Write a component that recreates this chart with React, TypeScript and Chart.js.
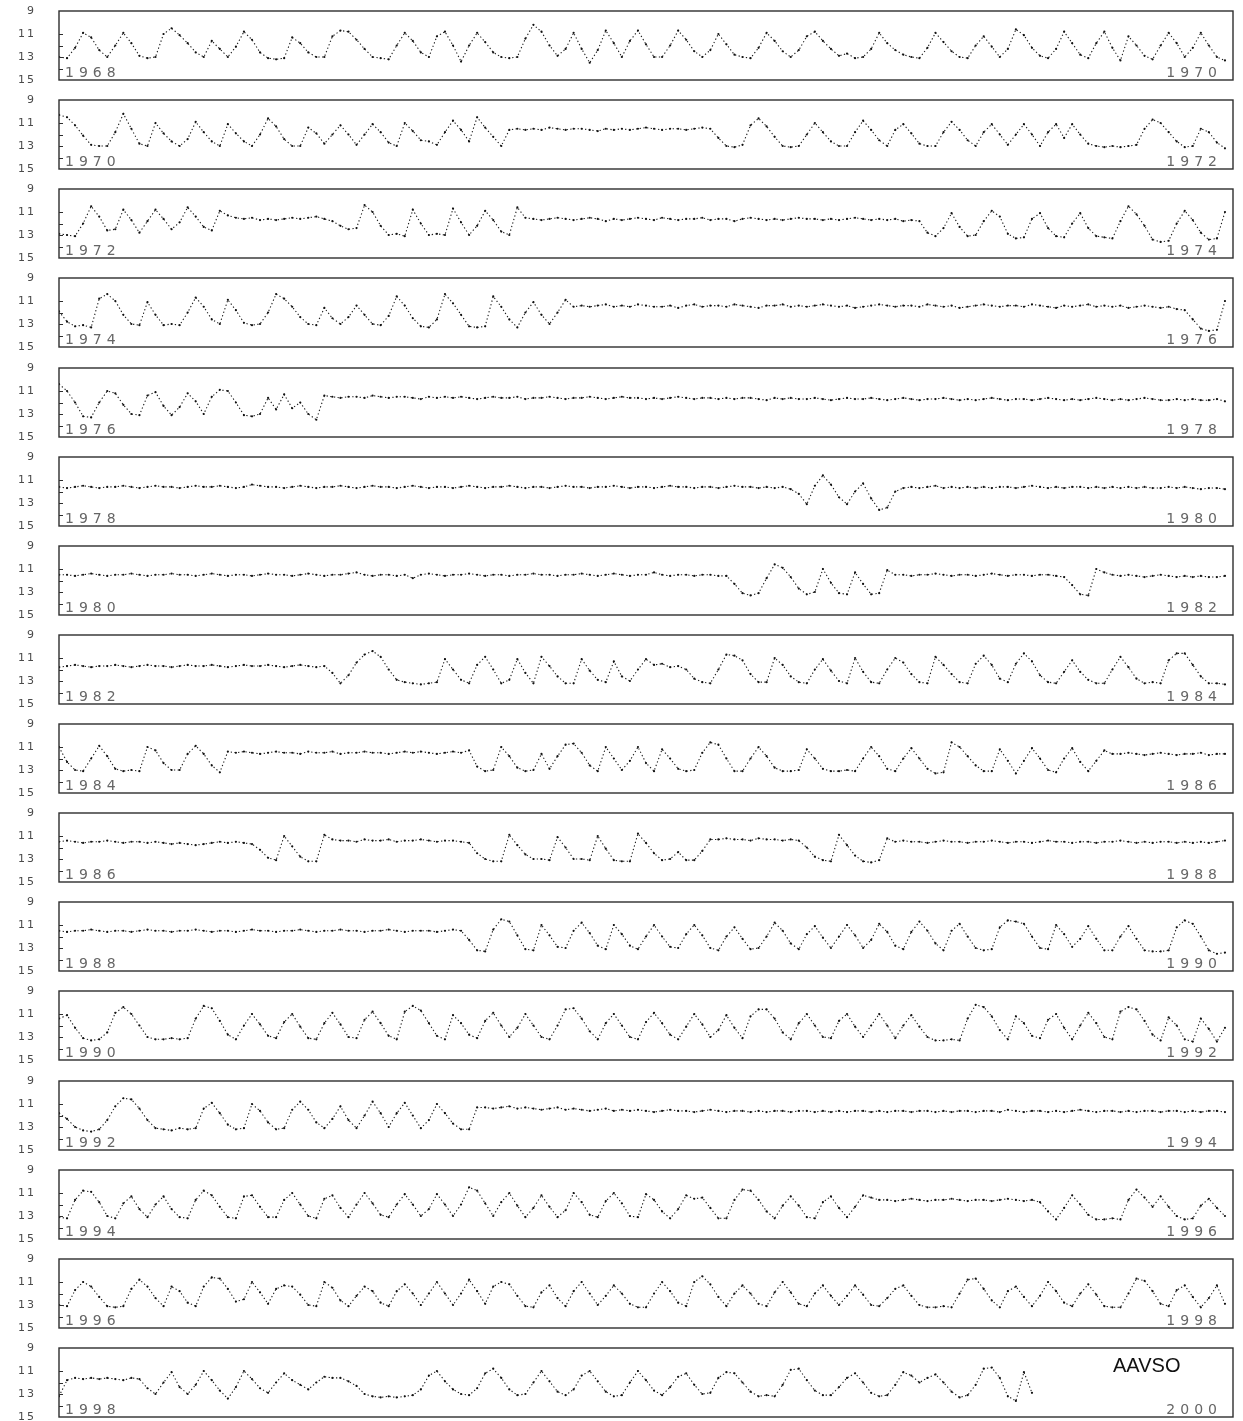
import React, { useEffect, useRef } from "react";
import { Chart, registerables } from "chart.js";

Chart.register(...registerables);

// ---------- axis / label data ----------
const PANEL_START_YEARS = [1968, 1970, 1972, 1974, 1976, 1978, 1980, 1982, 1984, 1986, 1988, 1990, 1992, 1994, 1996, 1998];
const Y_TICK_VALUES = [9, 11, 13, 15];
const INNER_TICK_VALUES = [11, 12, 13, 14];
const DAY_STEP = 5; // one reading every 5 days
const PANEL_DAYS = 730; // two years per strip
const CREDIT = "AAVSO";

// ---------- visual magnitudes, one array per two-year strip ----------
const mag1968 = [
  13.0, 13.1, 12.2, 10.9, 11.3, 12.4, 13.0, 12.0, 10.9, 11.8,
  12.9, 13.1, 13.0, 11.0, 10.5, 11.1, 11.8, 12.6, 13.0, 11.6,
  12.3, 13.0, 12.1, 10.8, 11.5, 12.6, 13.1, 13.2, 13.1, 11.3,
  11.8, 12.6, 13.0, 13.0, 11.2, 10.7, 10.8, 11.5, 12.3, 13.0,
  13.1, 13.2, 12.0, 10.9, 11.6, 12.6, 13.0, 11.2, 10.8, 12.0,
  13.4, 12.0, 10.9, 11.7, 12.6, 13.0, 13.1, 13.0, 11.4, 10.2,
  10.8, 12.0, 12.9, 12.3, 10.9, 12.3, 13.5, 12.4, 10.7, 11.8,
  13.0, 11.6, 10.7, 11.9, 13.0, 13.0, 12.0, 10.7, 11.5, 12.5,
  13.0, 12.4, 11.0, 11.9, 12.8, 13.0, 13.1, 12.2, 10.9, 11.6,
  12.5, 13.0, 12.4, 11.2, 10.8, 11.6, 12.3, 12.9, 12.7, 13.1,
  13.0, 12.3, 10.9, 11.8, 12.4, 12.8, 13.0, 13.1, 12.2, 10.9,
  11.7, 12.5, 13.0, 13.1, 12.0, 11.2, 12.1, 13.0, 12.3, 10.6,
  11.1, 12.2, 12.9, 13.1, 12.3, 10.8, 11.8, 12.8, 13.1, 11.8,
  10.8, 12.2, 13.3, 11.2, 12.0, 12.9, 13.2, 12.0, 10.9, 11.8,
  13.0, 12.2, 10.9, 12.0, 13.0, 13.3,
];

const mag1970 = [
  10.3, 10.5, 11.2, 12.1, 12.9, 13.0, 13.0, 11.8, 10.2, 11.5,
  12.8, 13.0, 11.0, 11.9, 12.6, 13.0, 12.4, 10.9, 11.8, 12.6,
  13.0, 11.1, 11.9, 12.6, 13.0, 12.0, 10.6, 11.3, 12.4, 13.0,
  13.0, 11.4, 11.9, 12.8, 12.0, 11.2, 12.0, 12.9, 12.0, 11.1,
  11.8, 12.7, 13.0, 11.0, 11.7, 12.5, 12.6, 12.9, 11.8, 10.8,
  11.6, 12.6, 10.5, 11.4, 12.2, 13.0, 11.6, 11.5, 11.6, 11.5,
  11.6, 11.4, 11.5, 11.6, 11.5, 11.5, 11.6, 11.7, 11.5, 11.6,
  11.5, 11.6, 11.5, 11.4, 11.5, 11.6, 11.5, 11.5, 11.6, 11.5,
  11.4, 11.5, 12.3, 13.0, 13.1, 12.9, 11.2, 10.6, 11.3, 12.2,
  13.0, 13.1, 13.0, 12.0, 11.0, 11.8, 12.6, 13.0, 13.0, 11.8,
  10.8, 11.6, 12.5, 13.0, 11.6, 11.1, 11.9, 12.8, 13.0, 13.0,
  11.8, 10.9, 11.6, 12.5, 13.0, 11.8, 11.1, 12.0, 12.9, 12.0,
  11.1, 12.0, 13.0, 11.8, 11.1, 12.3, 11.1, 12.0, 12.8, 13.0,
  13.1, 13.0, 13.1, 13.0, 12.9, 11.5, 10.7, 11.0, 11.8, 12.6,
  13.1, 13.0, 11.5, 11.8, 12.7, 13.2,
];

const mag1972 = [
  12.9, 13.0, 13.1, 12.0, 10.5, 11.4, 12.6, 12.5, 10.8, 11.7,
  12.8, 11.8, 10.8, 11.6, 12.5, 11.9, 10.6, 11.4, 12.3, 12.6,
  10.9, 11.3, 11.5, 11.6, 11.5, 11.7, 11.6, 11.7, 11.6, 11.5,
  11.6, 11.5, 11.4, 11.6, 11.8, 12.2, 12.5, 12.4, 10.4, 11.0,
  12.2, 13.0, 12.9, 13.1, 10.8, 12.0, 13.0, 12.9, 13.0, 10.7,
  11.9, 13.0, 12.2, 10.9, 11.7, 12.7, 13.0, 10.6, 11.5, 11.6,
  11.7, 11.6, 11.5, 11.6, 11.7, 11.6, 11.5, 11.6, 11.8, 11.6,
  11.7, 11.6, 11.5, 11.6, 11.7, 11.5, 11.6, 11.7, 11.6, 11.6,
  11.5, 11.7, 11.6, 11.6, 11.8, 11.6, 11.5, 11.6, 11.7, 11.6,
  11.7, 11.6, 11.5, 11.6, 11.6, 11.7, 11.6, 11.7, 11.6, 11.5,
  11.6, 11.7, 11.6, 11.7, 11.6, 11.8, 11.7, 11.8, 12.8, 13.1,
  12.4, 11.1, 12.3, 13.1, 13.0, 11.8, 10.9, 11.4, 12.9, 13.3,
  13.2, 11.6, 11.1, 12.4, 13.1, 13.2, 12.0, 11.1, 12.4, 13.1,
  13.2, 13.3, 11.8, 10.5, 11.2, 12.2, 13.4, 13.6, 13.5, 12.0,
  10.9, 11.7, 12.8, 13.4, 13.3, 11.0,
];

const mag1974 = [
  11.9, 12.8, 13.2, 13.1, 13.3, 10.8, 10.4, 11.0, 12.2, 13.0,
  13.1, 11.1, 12.2, 13.1, 13.0, 13.1, 12.0, 10.7, 11.5, 12.6,
  13.0, 10.9, 11.8, 12.9, 13.1, 13.0, 12.0, 10.4, 10.8, 11.5,
  12.4, 13.0, 13.1, 11.6, 12.5, 13.0, 12.4, 11.4, 12.2, 13.0,
  13.1, 12.3, 10.6, 11.4, 12.5, 13.2, 13.3, 12.6, 10.4, 11.2,
  12.2, 13.2, 13.3, 13.2, 10.6, 11.5, 12.6, 13.3, 12.0, 11.1,
  12.2, 13.0, 12.0, 10.9, 11.5, 11.4, 11.5, 11.4, 11.3, 11.5,
  11.4, 11.5, 11.3, 11.4, 11.5, 11.5, 11.4, 11.6, 11.4, 11.3,
  11.5, 11.4, 11.4, 11.5, 11.3, 11.4, 11.5, 11.6, 11.4, 11.4,
  11.3, 11.5, 11.4, 11.5, 11.4, 11.3, 11.4, 11.5, 11.4, 11.6,
  11.5, 11.4, 11.3, 11.4, 11.5, 11.4, 11.4, 11.5, 11.3, 11.4,
  11.5, 11.4, 11.6, 11.5, 11.4, 11.3, 11.4, 11.5, 11.4, 11.4,
  11.5, 11.3, 11.4, 11.5, 11.6, 11.4, 11.5, 11.4, 11.3, 11.5,
  11.4, 11.5, 11.4, 11.6, 11.5, 11.4, 11.5, 11.6, 11.5, 11.7,
  11.8, 12.6, 13.4, 13.6, 13.5, 11.0,
];

const mag1976 = [
  10.4, 11.0, 12.0, 13.2, 13.3, 12.0, 11.0, 11.2, 12.2, 13.0,
  13.1, 11.4, 11.1, 12.3, 13.1, 12.4, 11.2, 11.9, 13.0, 11.5,
  10.9, 11.0, 12.0, 13.1, 13.2, 13.0, 11.6, 12.6, 11.3, 12.5,
  12.0, 13.0, 13.5,
  11.4, 11.5, 11.6, 11.5, 11.5, 11.6, 11.4, 11.5, 11.6, 11.5,
  11.5, 11.6, 11.7, 11.5, 11.6, 11.5, 11.6, 11.5, 11.6, 11.7,
  11.6, 11.5, 11.6, 11.6, 11.5, 11.7, 11.6, 11.6, 11.5, 11.6,
  11.7, 11.6, 11.6, 11.5, 11.6, 11.7, 11.6, 11.5, 11.6, 11.6,
  11.7, 11.6, 11.7, 11.6, 11.5, 11.6, 11.7, 11.6, 11.6, 11.7,
  11.6, 11.7, 11.6, 11.6, 11.7, 11.8, 11.6, 11.7, 11.6, 11.7,
  11.7, 11.6, 11.7, 11.8, 11.7, 11.6, 11.7, 11.7, 11.6, 11.7,
  11.8, 11.7, 11.6, 11.7, 11.8, 11.7, 11.7, 11.6, 11.7, 11.8,
  11.7, 11.8, 11.7, 11.6, 11.7, 11.8, 11.7, 11.7, 11.8, 11.7,
  11.6, 11.7, 11.8, 11.7, 11.8, 11.7, 11.6, 11.7, 11.8, 11.7,
  11.8, 11.7, 11.6, 11.7, 11.8, 11.8, 11.7, 11.8, 11.7, 11.8,
  11.8, 11.7, 11.9,
];

const mag1978 = [
  11.6, 11.7, 11.6, 11.5, 11.6, 11.7, 11.6, 11.6, 11.5, 11.6,
  11.7, 11.6, 11.5, 11.6, 11.6, 11.7, 11.6, 11.5, 11.6, 11.6,
  11.5, 11.6, 11.7, 11.6, 11.4, 11.5, 11.6, 11.6, 11.7, 11.6,
  11.5, 11.6, 11.7, 11.6, 11.6, 11.5, 11.6, 11.7, 11.6, 11.5,
  11.6, 11.6, 11.7, 11.6, 11.5, 11.6, 11.7, 11.6, 11.6, 11.7,
  11.6, 11.5, 11.6, 11.7, 11.6, 11.6, 11.5, 11.6, 11.7, 11.6,
  11.6, 11.7, 11.6, 11.5, 11.6, 11.6, 11.7, 11.6, 11.6, 11.5,
  11.6, 11.7, 11.6, 11.6, 11.7, 11.6, 11.5, 11.6, 11.6, 11.7,
  11.6, 11.6, 11.7, 11.6, 11.5, 11.6, 11.6, 11.7, 11.6, 11.7,
  11.6, 11.8,
  12.2, 13.1, 11.5, 10.6, 11.4, 12.5, 13.1, 12.0, 11.3, 12.6, 13.6, 13.4, 12.0,
  11.7, 11.6, 11.7, 11.6, 11.5, 11.7, 11.6, 11.7, 11.6, 11.7,
  11.6, 11.7, 11.6, 11.6, 11.7, 11.6, 11.5, 11.6, 11.7, 11.6,
  11.7, 11.6, 11.6, 11.7, 11.6, 11.7, 11.6, 11.7, 11.6, 11.7,
  11.6, 11.7, 11.7, 11.6, 11.7, 11.6, 11.7, 11.8, 11.7, 11.7,
  11.8,
];

const mag1980 = [
  11.5, 11.5, 11.6, 11.5, 11.4, 11.5, 11.6, 11.5, 11.5, 11.4,
  11.5, 11.6, 11.5, 11.5, 11.4, 11.5, 11.5, 11.6, 11.5, 11.4,
  11.5, 11.6, 11.5, 11.5, 11.6, 11.5, 11.4, 11.5, 11.5, 11.6,
  11.5, 11.4, 11.5, 11.6, 11.5, 11.5, 11.4, 11.3, 11.5, 11.6,
  11.5, 11.5, 11.6, 11.5, 11.8, 11.5, 11.4, 11.5, 11.6, 11.5,
  11.5, 11.4, 11.5, 11.6, 11.5, 11.5, 11.6, 11.5, 11.5, 11.4,
  11.5, 11.5, 11.6, 11.5, 11.5, 11.4, 11.5, 11.6, 11.5, 11.4,
  11.5, 11.6, 11.5, 11.5, 11.3, 11.5, 11.6, 11.5, 11.5, 11.6,
  11.5, 11.5, 11.6, 11.6,
  12.3, 13.1, 13.3, 13.1, 11.8, 10.6, 10.9, 11.7, 12.7, 13.2,
  13.0, 11.0, 12.2, 13.1, 13.2, 11.3, 12.3, 13.2, 13.1, 11.1, 11.5,
  11.5, 11.6, 11.5, 11.5, 11.4, 11.5, 11.6, 11.5, 11.5, 11.6,
  11.5, 11.4, 11.5, 11.6, 11.5, 11.5, 11.6, 11.5, 11.5, 11.6, 11.7,
  12.4, 13.2, 13.3, 11.0,
  11.3, 11.5, 11.6, 11.5, 11.6, 11.7, 11.6, 11.5, 11.6, 11.7,
  11.6, 11.7, 11.6, 11.7, 11.7, 11.6,
];

const mag1982 = [
  11.8, 11.7, 11.6, 11.7, 11.8, 11.7, 11.7, 11.6, 11.7, 11.8,
  11.7, 11.6, 11.7, 11.7, 11.8, 11.7, 11.6, 11.7, 11.7, 11.6,
  11.7, 11.8, 11.7, 11.6, 11.7, 11.7, 11.6, 11.7, 11.8, 11.7,
  11.6, 11.7, 11.8, 11.7,
  12.3, 13.2, 12.5, 11.4, 10.7, 10.4, 10.9, 12.0, 12.9, 13.1,
  13.2, 13.3, 13.2, 13.1, 11.1, 12.0, 12.9, 13.2, 11.6, 10.9,
  12.0, 13.2, 12.9, 11.1, 12.3, 13.2, 10.9, 11.7, 12.6, 13.2,
  13.2, 11.1, 12.1, 12.9, 13.1, 11.3, 12.6, 13.0, 12.0, 11.1,
  11.6, 11.5, 11.8, 11.7, 12.0, 12.8, 13.1, 13.2, 12.0, 10.7,
  10.8, 11.2, 12.4, 13.1, 13.1, 11.0, 11.6, 12.6, 13.1, 13.2,
  12.0, 11.1, 12.1, 13.0, 13.2, 11.0, 12.2, 13.1, 13.2, 12.0,
  11.0, 11.4, 12.4, 13.1, 13.2, 10.9, 11.6, 12.4, 13.1, 13.2,
  11.5, 10.8, 11.6, 12.8, 13.1, 11.5, 10.6, 11.3, 12.5, 13.1,
  13.2, 12.2, 11.2, 12.2, 12.9, 13.2, 13.2, 12.0, 10.9, 11.8,
  12.8, 13.2, 13.1, 13.2, 11.2, 10.6, 10.6, 11.6, 12.6, 13.2,
  13.2, 13.3,
];

const mag1984 = [
  11.0, 12.3, 13.0, 13.1, 12.0, 10.9, 11.8, 12.9, 13.1, 13.0,
  13.1, 11.0, 11.3, 12.4, 13.0, 13.0, 11.6, 10.9, 11.6, 12.6,
  13.2, 11.4,
  11.5, 11.4, 11.5, 11.6, 11.5, 11.4, 11.5, 11.5, 11.6, 11.4,
  11.5, 11.5, 11.4, 11.6, 11.5, 11.5, 11.4, 11.5, 11.5, 11.6,
  11.5, 11.4, 11.5, 11.4, 11.5, 11.6, 11.5, 11.4, 11.5, 11.3,
  12.7, 13.1, 13.0, 11.0, 11.8, 12.8, 13.1, 13.0, 11.6, 12.9,
  11.8, 10.8, 10.7, 11.5, 12.6, 13.1, 11.0, 12.0, 13.0, 12.2,
  11.0, 12.4, 13.1, 11.2, 12.0, 12.9, 13.1, 13.0, 11.5, 10.6,
  10.8, 12.0, 13.1, 13.1, 12.0, 11.0, 11.8, 12.8, 13.1, 13.1,
  13.0, 11.2, 12.0, 12.9, 13.1, 13.1, 13.0, 13.1, 12.0, 11.0,
  11.8, 12.9, 13.1, 12.0, 11.1, 12.0, 12.9, 13.3, 13.2, 10.6,
  11.0, 11.8, 12.6, 13.1, 13.1, 11.2, 12.2, 13.3, 12.2, 11.1,
  12.0, 13.0, 13.2, 12.0, 11.1, 12.3, 13.1, 12.2, 11.3, 11.6,
  11.6, 11.5, 11.6, 11.7, 11.6, 11.5, 11.6, 11.7, 11.6, 11.6,
  11.5, 11.7, 11.6, 11.6,
];

const mag1986 = [
  11.5, 11.4, 11.5, 11.6, 11.5, 11.5, 11.4, 11.5, 11.6, 11.5,
  11.5, 11.6, 11.5, 11.6, 11.7, 11.6, 11.7, 11.8, 11.7, 11.6,
  11.5, 11.6, 11.5, 11.6, 11.7,
  12.2, 12.9, 13.1, 11.0, 11.9, 12.8, 13.2, 13.2, 10.9,
  11.3, 11.4, 11.4, 11.5, 11.3, 11.4, 11.4, 11.3, 11.5, 11.4,
  11.4, 11.3, 11.4, 11.5, 11.4, 11.4, 11.5, 11.6,
  12.5, 13.0, 13.2, 13.2, 10.9, 11.8, 12.6, 13.0, 13.0, 13.1,
  11.1, 12.0, 13.0, 13.0, 13.1, 11.0, 12.1, 13.1, 13.2, 13.2,
  10.8, 11.6, 12.5, 13.1, 13.0, 12.4, 13.1, 13.1, 12.3, 11.3,
  11.3, 11.2, 11.3, 11.3, 11.4, 11.2, 11.3, 11.3, 11.4, 11.3, 11.4,
  12.0, 12.8, 13.1, 13.2, 10.9, 11.8, 12.7, 13.2, 13.3, 13.1, 11.2,
  11.5, 11.4, 11.5, 11.5, 11.6, 11.5, 11.4, 11.5, 11.5, 11.6,
  11.5, 11.5, 11.4, 11.5, 11.6, 11.5, 11.5, 11.6, 11.5, 11.4,
  11.5, 11.5, 11.6, 11.5, 11.5, 11.6, 11.5, 11.5, 11.4, 11.5,
  11.6, 11.5, 11.6, 11.5, 11.5, 11.6, 11.5, 11.6, 11.5, 11.6,
  11.5, 11.4,
];

const mag1988 = [
  11.5, 11.6, 11.5, 11.5, 11.4, 11.5, 11.6, 11.5, 11.5, 11.6,
  11.5, 11.4, 11.5, 11.5, 11.6, 11.5, 11.5, 11.4, 11.5, 11.6,
  11.5, 11.5, 11.6, 11.5, 11.4, 11.5, 11.5, 11.6, 11.5, 11.5,
  11.4, 11.5, 11.6, 11.5, 11.5, 11.4, 11.5, 11.5, 11.6, 11.5,
  11.5, 11.4, 11.5, 11.6, 11.5, 11.5, 11.5, 11.6, 11.5, 11.4,
  11.5,
  12.3, 13.2, 13.3, 11.4, 10.5, 10.7, 11.9, 13.1, 13.2, 11.0,
  11.9, 12.9, 13.0, 11.5, 10.8, 11.7, 12.8, 13.1, 11.0, 11.8,
  12.8, 13.1, 12.0, 11.0, 12.0, 12.9, 13.0, 11.8, 11.0, 11.9,
  13.0, 13.2, 12.0, 11.2, 12.2, 13.1, 13.0, 12.0, 10.8, 11.5,
  12.6, 13.1, 11.8, 11.1, 12.1, 13.0, 12.0, 11.0, 11.9, 13.0,
  12.3, 10.9, 11.6, 12.8, 13.1, 11.6, 10.7, 11.5, 12.6, 13.2,
  11.5, 10.9, 12.0, 13.0, 13.2, 13.1, 11.2, 10.6, 10.7, 10.9,
  12.0, 13.0, 13.1, 11.0, 11.8, 12.9, 12.2, 11.1, 12.2, 13.2,
  13.2, 12.0, 11.1, 12.2, 13.2, 13.3, 13.3, 13.2, 11.2, 10.6,
  10.9, 12.0, 13.2, 13.5, 13.4,
];

const mag1990 = [
  11.4, 11.1, 12.2, 13.1, 13.3, 13.2, 12.6, 10.9, 10.4, 11.0,
  12.0, 13.0, 13.2, 13.2, 13.1, 13.2, 13.1, 11.4, 10.3, 10.5,
  11.6, 12.8, 13.2, 12.0, 11.0, 11.9, 12.9, 13.1, 11.7, 11.0,
  12.1, 13.1, 13.2, 11.8, 10.9, 11.9, 13.0, 13.1, 11.5, 10.8,
  11.8, 12.9, 13.2, 10.8, 10.3, 10.7, 11.8, 12.9, 13.2, 11.1,
  11.8, 12.8, 13.1, 11.6, 10.9, 12.0, 13.0, 12.2, 11.0, 12.0,
  13.0, 13.2, 12.0, 10.6, 10.5, 11.4, 12.5, 13.2, 11.8, 11.0,
  12.0, 13.0, 13.2, 11.7, 10.9, 11.8, 12.8, 13.2, 12.1, 11.0,
  11.9, 13.0, 12.4, 11.1, 12.2, 13.1, 11.2, 10.6, 10.6, 11.4,
  12.6, 13.2, 11.8, 11.0, 12.0, 13.0, 13.1, 11.6, 11.0, 12.1,
  13.0, 12.0, 11.0, 12.0, 13.1, 12.0, 11.1, 12.1, 13.0, 13.3,
  13.3, 13.2, 13.3, 11.4, 10.2, 10.4, 11.2, 12.4, 13.2, 11.2,
  11.8, 12.9, 13.1, 11.5, 11.0, 12.2, 13.2, 12.0, 10.9, 11.8,
  13.0, 13.2, 10.8, 10.4, 10.6, 11.6, 12.8, 13.3, 11.3, 12.0,
  13.2, 13.4, 11.4, 12.3, 13.4, 12.2,
];

const mag1992 = [
  11.8, 12.3, 13.0, 13.3, 13.4, 13.2, 12.4, 11.2, 10.5, 10.6,
  11.4, 12.4, 13.1, 13.2, 13.3, 13.1, 13.2, 13.1, 11.4, 10.9,
  11.8, 12.8, 13.2, 13.1, 11.0, 11.6, 12.6, 13.2, 13.1, 11.5,
  10.8, 11.5, 12.6, 13.1, 12.3, 11.2, 12.4, 13.1, 12.0, 10.8,
  11.8, 13.0, 11.8, 10.9, 12.0, 13.1, 12.4, 11.0, 11.8, 12.7,
  13.2, 13.2, 11.3,
  11.3, 11.4, 11.3, 11.2, 11.4, 11.3, 11.4, 11.5, 11.4, 11.3,
  11.5, 11.4, 11.5, 11.6, 11.5, 11.4, 11.6, 11.5, 11.6, 11.5,
  11.6, 11.7, 11.6, 11.5, 11.6, 11.6, 11.7, 11.6, 11.5, 11.6,
  11.7, 11.6, 11.6, 11.7, 11.6, 11.7, 11.6, 11.6, 11.7, 11.6,
  11.6, 11.7, 11.6, 11.7, 11.6, 11.7, 11.6, 11.6, 11.7, 11.6,
  11.7, 11.6, 11.6, 11.7, 11.6, 11.6, 11.7, 11.6, 11.7, 11.6,
  11.6, 11.7, 11.6, 11.6, 11.7, 11.5, 11.6, 11.7, 11.6, 11.6,
  11.7, 11.6, 11.7, 11.6, 11.5, 11.6, 11.7, 11.6, 11.6, 11.7,
  11.6, 11.7, 11.6, 11.6, 11.7, 11.6, 11.6, 11.7, 11.6, 11.7,
  11.6, 11.6, 11.7,
];

const mag1994 = [
  13.1, 13.2, 11.6, 10.8, 10.9, 11.8, 13.0, 13.2, 11.9, 11.3,
  12.4, 13.1, 12.0, 11.3, 12.4, 13.1, 13.2, 11.6, 10.8, 11.2,
  12.2, 13.1, 13.2, 11.3, 11.2, 12.2, 13.1, 13.1, 11.6, 11.0,
  12.0, 13.0, 13.2, 11.5, 11.2, 12.3, 13.1, 12.0, 11.0, 11.9,
  12.9, 13.1, 12.0, 11.1, 12.0, 13.0, 12.4, 11.1, 12.0, 13.0,
  12.0, 10.5, 10.8, 11.9, 13.0, 11.8, 11.0, 12.1, 13.1, 12.3,
  11.2, 12.2, 13.1, 12.5, 11.0, 11.8, 12.9, 13.1, 11.7, 11.0,
  11.9, 13.0, 13.1, 11.1, 11.6, 12.6, 13.2, 12.4, 11.2, 11.5,
  11.4, 12.3, 13.2, 13.2, 11.6, 10.7, 10.8, 11.6, 12.6, 13.2,
  12.1, 11.3, 12.1, 13.1, 13.2, 11.8, 11.3, 12.3, 13.1, 12.2,
  11.2, 11.4, 11.6,
  11.6, 11.7, 11.6, 11.5, 11.6, 11.7, 11.6, 11.6, 11.5, 11.6,
  11.7, 11.6, 11.6, 11.7, 11.6, 11.5, 11.6, 11.7, 11.6, 11.8,
  12.6, 13.3, 12.3, 11.2, 12.0, 12.9, 13.3, 13.3, 13.2, 13.3,
  11.6, 10.7, 11.4, 12.2, 11.3, 12.2, 13.0, 13.3, 13.2, 12.1,
  11.5, 12.3, 13.0,
];

const mag1996 = [
  13.0, 13.1, 11.7, 11.0, 11.4, 12.3, 13.1, 13.2, 13.1, 11.6,
  10.8, 11.4, 12.4, 13.1, 11.4, 11.8, 12.8, 13.1, 11.4, 10.6,
  10.7, 11.6, 12.7, 12.5, 11.0, 11.9, 12.9, 11.6, 11.3, 11.4,
  12.1, 13.0, 13.1, 11.0, 11.5, 12.6, 13.1, 12.2, 11.4, 11.8,
  12.8, 13.1, 11.8, 11.2, 12.0, 13.0, 12.0, 11.0, 12.0, 13.0,
  12.0, 10.8, 11.8, 12.9, 11.4, 11.0, 11.2, 12.2, 13.1, 13.2,
  11.9, 11.3, 12.4, 13.1, 11.8, 11.0, 12.0, 13.0, 12.2, 11.3,
  12.0, 12.9, 13.2, 13.2, 12.0, 11.0, 11.8, 12.8, 13.1, 11.0,
  10.5, 11.2, 12.3, 13.1, 12.0, 11.3, 12.0, 12.9, 13.1, 11.9,
  11.0, 11.9, 12.9, 13.1, 12.0, 11.3, 12.2, 13.0, 12.2, 11.3,
  12.1, 13.0, 13.1, 12.4, 11.6, 11.3, 12.2, 13.0, 13.2, 13.2,
  13.1, 13.2, 12.0, 10.8, 10.7, 11.6, 12.6, 13.2, 11.8, 11.4,
  12.3, 13.1, 12.2, 11.0, 11.8, 12.8, 13.1, 12.0, 11.2, 12.1,
  13.1, 13.2, 13.2, 12.0, 10.7, 10.9, 11.8, 12.9, 13.1, 11.7,
  11.3, 12.3, 13.2, 12.4, 11.3, 12.9,
];

const mag1998 = [
  13.2, 11.8, 11.6, 11.7, 11.6, 11.7, 11.6, 11.7, 11.8, 11.6,
  11.7, 12.5, 13.0, 12.0, 11.1, 12.4, 13.0, 12.2, 11.0, 11.8,
  12.7, 13.4, 12.4, 11.0, 11.7, 12.5, 12.9, 12.0, 11.2, 11.8,
  12.2, 12.6, 12.0, 11.5, 11.6, 11.6, 11.9, 12.3, 13.0, 13.2,
  13.3, 13.2, 13.3, 13.2, 13.1, 12.6, 11.4, 11.0, 11.9, 12.6,
  13.0, 13.1, 12.5, 11.2, 10.8, 11.6, 12.6, 13.1, 13.0, 12.0,
  11.0, 11.9, 12.8, 13.1, 12.6, 11.4, 11.0, 11.9, 12.8, 13.2,
  13.1, 12.0, 11.0, 11.8, 12.7, 13.1, 12.4, 11.5, 11.2, 12.2,
  13.0, 12.9, 11.6, 11.1, 11.2, 12.0, 12.8, 13.2, 13.1, 13.2,
  12.2, 10.9, 10.8, 11.8, 12.7, 13.1, 13.1, 12.4, 11.6, 11.2,
  12.0, 12.9, 13.2, 13.1, 12.2, 11.1, 11.4, 12.0, 11.6, 11.3,
  12.0, 12.8, 13.3, 13.1, 12.2, 10.8, 10.7, 11.6, 13.2, 13.6,
  11.1, 12.9,
];

const PANEL_SERIES = [
  mag1968, mag1970, mag1972, mag1974, mag1976, mag1978, mag1980, mag1982,
  mag1984, mag1986, mag1988, mag1990, mag1992, mag1994, mag1996, mag1998,
];

// ---------- layout ----------
const PAGE_W = 1243;
const CANVAS_H = 89;
const PANEL_PITCH = 89.13;
const FIRST_TOP = 1;

const framePlugin = {
  id: "panelFrame",
  beforeDraw(chart: any) {
    chart.ctx.letterSpacing = "2px";
  },
  afterDraw(chart: any, _args: any, opts: any) {
    const { ctx, chartArea } = chart;
    const { left, top, right, bottom } = chartArea;
    ctx.save();
    ctx.letterSpacing = "0px";
    ctx.strokeStyle = "#2e2e2e";
    ctx.lineWidth = 1.4;
    ctx.strokeRect(left, top, right - left, bottom - top);
    ctx.lineWidth = 1;
    ctx.beginPath();
    for (const v of INNER_TICK_VALUES) {
      const y = Math.round(chart.scales.y.getPixelForValue(v)) + 0.5;
      ctx.moveTo(left, y);
      ctx.lineTo(left + 4, y);
    }
    ctx.stroke();
    ctx.font = '14px "DejaVu Sans"';
    ctx.fillStyle = "#666";
    ctx.letterSpacing = "5px";
    ctx.textBaseline = "alphabetic";
    ctx.textAlign = "left";
    ctx.fillText(opts.startLabel, left + 6, bottom - 3);
    ctx.textAlign = "right";
    ctx.fillText(opts.endLabel, right - 11, bottom - 3);
    if (opts.note) {
      ctx.letterSpacing = "0px";
      ctx.font = '20px "Liberation Sans"';
      ctx.fillStyle = "#111";
      ctx.textAlign = "left";
      ctx.textBaseline = "middle";
      ctx.fillText(opts.note, right - 120, top + 18);
    }
    ctx.restore();
  },
};

export default function App() {
  const refs = useRef<(HTMLCanvasElement | null)[]>([]);

  useEffect(() => {
    const charts = PANEL_SERIES.map((series, k) => {
      const canvas = refs.current[k] as HTMLCanvasElement;
      const startYear = PANEL_START_YEARS[k];
      const points = series.map((v, i) => ({ x: i * DAY_STEP, y: v }));
      return new Chart(canvas, {
        type: "line",
        data: {
          datasets: [
            {
              data: points,
              borderColor: "#1c1c1c",
              borderWidth: 1.1,
              borderDash: [1.3, 2.4],
              pointRadius: 1.1,
              pointBackgroundColor: "#111",
              pointBorderWidth: 0,
              tension: 0,
              fill: false,
            },
          ],
        },
        options: {
          responsive: false,
          maintainAspectRatio: false,
          animation: false,
          devicePixelRatio: 1,
          layout: { padding: { top: 10, bottom: 10, left: 0, right: 10 } },
          events: [],
          plugins: {
            legend: { display: false },
            tooltip: { enabled: false },
            panelFrame: {
              startLabel: String(startYear),
              endLabel: String(startYear + 2),
              note: k === PANEL_SERIES.length - 1 ? CREDIT : "",
            },
          } as any,
          scales: {
            x: { type: "linear", min: 0, max: PANEL_DAYS, display: false },
            y: {
              type: "linear",
              reverse: true,
              min: 9,
              max: 15,
              afterFit: (s: any) => {
                s.width = 59;
              },
              afterBuildTicks: (s: any) => {
                s.ticks = Y_TICK_VALUES.map((v) => ({ value: v }));
              },
              ticks: {
                font: { family: "DejaVu Sans", size: 11 },
                color: "#4a4a4a",
                padding: 0,
              },
              grid: {
                display: true,
                drawOnChartArea: false,
                drawTicks: true,
                tickLength: 23,
                color: "rgba(0,0,0,0)",
              },
              border: { display: false },
            },
          },
        },
        plugins: [framePlugin],
      } as any);
    });
    return () => charts.forEach((c) => c.destroy());
  }, []);

  return (
    <div style={{ position: "absolute", left: 0, top: 0, width: PAGE_W, height: 1421, background: "#fff" }}>
      {PANEL_SERIES.map((_, k) => (
        <canvas
          key={k}
          ref={(el) => {
            refs.current[k] = el;
          }}
          width={PAGE_W}
          height={CANVAS_H}
          style={{
            position: "absolute",
            left: 0,
            top: Math.round(FIRST_TOP + k * PANEL_PITCH),
            width: PAGE_W,
            height: CANVAS_H,
            display: "block",
          }}
        />
      ))}
    </div>
  );
}
